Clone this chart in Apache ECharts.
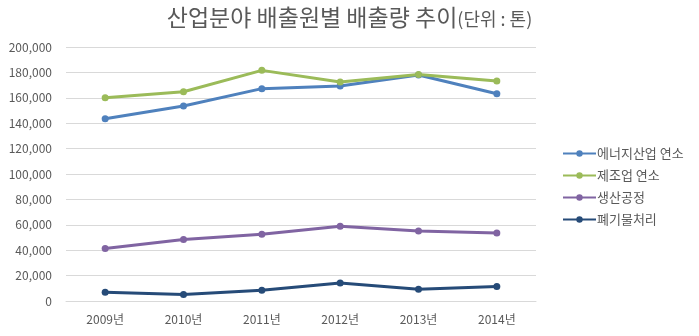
<!DOCTYPE html>
<html><head><meta charset="utf-8">
<script src="https://cdn.jsdelivr.net/npm/echarts@6/dist/echarts.min.js"></script>
<style>html,body{margin:0;padding:0;background:#fff}#c{width:699px;height:336px}</style>
</head><body><div id="c"></div>
<script>
const categories = ['2009년','2010년','2011년','2012년','2013년','2014년'];
const seriesNames = ['에너지산업 연소','제조업 연소','생산공정','폐기물처리'];
const energy = [143500, 153600, 167200, 169300, 177900, 163200];
const manufacturing = [160000, 164800, 181600, 172500, 178400, 173300];
const process = [41300, 48500, 52500, 58900, 55200, 53600];
const waste = [6900, 5100, 8500, 14100, 9300, 11500];
const colors = ['#4F81BD','#9BBB59','#8064A2','#264B78'];
const font = '"Noto Sans CJK KR", "Noto Sans", sans-serif';
const values = [energy, manufacturing, process, waste];

const chart = echarts.init(document.getElementById('c'));
chart.setOption({
  animation: false,
  backgroundColor: '#fff',
  title: {
    text: '{a|산업분야 배출원별 배출량 추이}{b|(단위 : 톤)}',
    left: 'center', top: 1,
    textStyle: {
      rich: {
        a: {fontSize: 23, fontWeight: 'normal', color: '#595959', fontFamily: font},
        b: {fontSize: 18, fontWeight: 'normal', color: '#595959', fontFamily: font, padding: [3,0,0,0]}
      }
    }
  },
  legend: {
    orient: 'vertical', left: 557, top: 142, itemGap: 9,
    itemWidth: 33, itemHeight: 8,
    textStyle: {fontSize: 13, color: '#595959', fontFamily: font, padding: [0,0,0,-4]},
    data: seriesNames
  },
  grid: {left: 66, right: 163, top: 47, bottom: 35},
  xAxis: {
    type: 'category', data: categories, boundaryGap: true,
    axisLine: {lineStyle: {color: '#d9d9d9'}},
    axisTick: {show: false},
    axisLabel: {fontSize: 12, color: '#595959', fontFamily: font, margin: 12}
  },
  yAxis: {
    type: 'value', min: 0, max: 200000, interval: 20000,
    axisLine: {show: false}, axisTick: {show: false},
    splitLine: {lineStyle: {color: '#d9d9d9'}},
    axisLabel: {fontSize: 12, color: '#595959', fontFamily: font, margin: 14,
      formatter: v => v.toLocaleString('en-US')}
  },
  series: seriesNames.map((n, i) => ({
    name: n, type: 'line', data: values[i],
    symbol: 'circle', symbolSize: 7,
    lineStyle: {width: 3, color: colors[i]},
    itemStyle: {color: colors[i]}
  }))
});
</script></body></html>
